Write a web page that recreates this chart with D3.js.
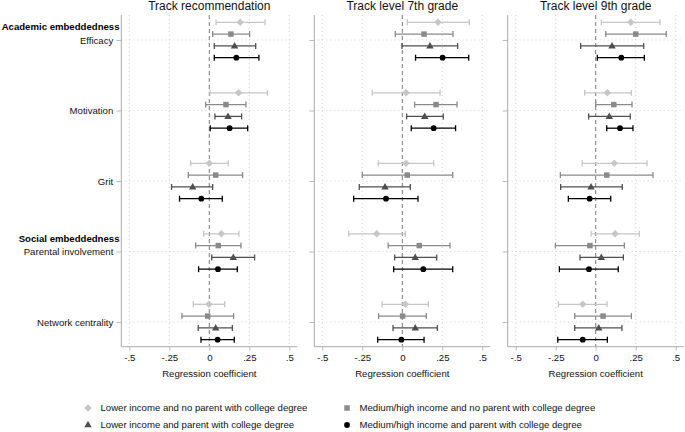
<!DOCTYPE html>
<html><head><meta charset="utf-8">
<script src="https://cdn.jsdelivr.net/npm/d3@7"></script>
<style>
body{margin:0;background:#fff;}
svg{display:block;font-family:"Liberation Sans",Arial,Helvetica,sans-serif;}
</style></head>
<body><svg id="c" width="685" height="432"></svg>
<script>
const categories = ["Efficacy","Motivation","Grit","Parental involvement","Network centrality"];
const groupHeaders = [{label:"Academic embeddedness", before:"Efficacy"},{label:"Social embeddedness", before:"Parental involvement"}];
const seriesNames = ["Lower income and no parent with college degree","Medium/high income and no parent with college degree","Lower income and parent with college degree","Medium/high income and parent with college degree"];
const panelTitles = ["Track recommendation","Track level 7th grade","Track level 9th grade"];
const xTicks = [-0.5,-0.25,0,0.25,0.5];
const xTickLabels = ["-.5","-.25","0",".25",".5"];

// series order: diamond, square, triangle, circle ; each row = categories
const trackRecEst = [[0.194,0.183,0.000,0.075,-0.002],[0.135,0.104,0.040,0.056,-0.010],[0.158,0.117,-0.104,0.150,0.040],[0.169,0.127,-0.050,0.054,0.052]];
const trackRecLo  = [[0.042,0.004,-0.117,-0.035,-0.100],[0.021,-0.023,-0.131,-0.085,-0.171],[0.031,0.035,-0.236,0.015,-0.069],[0.031,0.006,-0.186,-0.067,-0.052]];
const trackRecHi  = [[0.348,0.363,0.119,0.185,0.096],[0.252,0.229,0.208,0.198,0.152],[0.290,0.202,0.021,0.283,0.144],[0.310,0.240,0.081,0.175,0.156]];

const grade7Est = [[0.223,0.023,0.023,-0.160,0.019],[0.136,0.211,0.031,0.106,0.002],[0.173,0.140,-0.108,0.081,0.081],[0.252,0.196,-0.102,0.131,-0.006]];
const grade7Lo  = [[0.031,-0.188,-0.150,-0.335,-0.127],[-0.044,0.077,-0.250,-0.088,-0.148],[-0.002,0.027,-0.269,-0.048,-0.058],[0.083,0.056,-0.304,-0.054,-0.154]];
const grade7Hi  = [[0.419,0.236,0.196,0.019,0.163],[0.317,0.342,0.315,0.298,0.150],[0.346,0.256,0.050,0.215,0.219],[0.415,0.333,0.098,0.315,0.136]];

const grade9Est = [[0.219,0.073,0.116,0.121,-0.081],[0.250,0.113,0.069,-0.036,0.046],[0.102,0.085,-0.029,0.035,0.019],[0.160,0.152,-0.038,-0.042,-0.081]];
const grade9Lo  = [[0.035,-0.069,-0.084,-0.029,-0.233],[0.063,0.000,-0.221,-0.252,-0.131],[-0.094,-0.044,-0.219,-0.098,-0.131],[0.010,0.069,-0.171,-0.227,-0.237]];
const grade9Hi  = [[0.402,0.223,0.321,0.273,0.071],[0.441,0.227,0.358,0.179,0.223],[0.300,0.216,0.166,0.173,0.164],[0.304,0.233,0.094,0.141,0.073]];

const panels = [
  {title:panelTitles[0], est:trackRecEst, lo:trackRecLo, hi:trackRecHi, x0:121.3},
  {title:panelTitles[1], est:grade7Est, lo:grade7Lo, hi:grade7Hi, x0:314.3},
  {title:panelTitles[2], est:grade9Est, lo:grade9Lo, hi:grade9Hi, x0:507.7}
];

const colors = ["#c6c6c6","#8a8a8a","#4f4f4f","#000000"];
const symbols = [d3.symbolDiamond2, d3.symbolSquare, d3.symbolTriangle, d3.symbolCircle];
const symSizes = [36, 30, 24, 26];

const svg = d3.select("#c");
const plotTop = 15, plotBottom = 346.7, pw = 176;
const y = d3.scalePoint().domain(categories).range([40, 322]);
const yOff = d3.scalePoint().domain(d3.range(4)).range([-17.7, 17.7]);
const FS = 9.6;

panels.forEach((p, pi) => {
  const x = d3.scaleLinear().domain([-0.55, 0.55]).range([p.x0, p.x0 + pw]);
  const g = svg.append("g");
  g.selectAll("line.vg").data(xTicks.filter(d => d !== 0)).join("line")
    .attr("x1", d => x(d)).attr("x2", d => x(d)).attr("y1", plotTop).attr("y2", plotBottom)
    .attr("stroke", "#d0d0d0").attr("stroke-width", 1).attr("stroke-dasharray", "1,3");
  g.selectAll("line.hg").data(categories).join("line")
    .attr("x1", p.x0).attr("x2", p.x0 + pw).attr("y1", d => y(d)).attr("y2", d => y(d))
    .attr("stroke", "#d0d0d0").attr("stroke-width", 1).attr("stroke-dasharray", "1,3");
  g.append("line").attr("x1", x(0)).attr("x2", x(0)).attr("y1", plotTop).attr("y2", plotBottom)
    .attr("stroke", "#777").attr("stroke-width", 1).attr("stroke-dasharray", "4,3");
  const ya = g.append("g").attr("transform", `translate(${p.x0},0)`)
    .call(d3.axisLeft(y).tickSize(5).tickPadding(3).tickFormat(pi === 0 ? (d => d) : () => ""));
  ya.select(".domain").attr("d", `M0,${plotTop}V${plotBottom}`).attr("stroke", "#aaa");
  ya.selectAll(".tick line").attr("stroke", "#bbb");
  ya.selectAll(".tick text").attr("font-size", FS).attr("font-family", "inherit").attr("fill", "#111");
  const xa = g.append("g").attr("transform", `translate(0,${plotBottom})`)
    .call(d3.axisBottom(x).tickValues(xTicks).tickSize(4).tickPadding(3).tickFormat((d, i) => xTickLabels[i]));
  xa.select(".domain").attr("d", `M${p.x0},0H${p.x0 + pw}`).attr("stroke", "#aaa");
  xa.selectAll(".tick line").attr("stroke", "#bbb");
  xa.selectAll(".tick text").attr("font-size", FS).attr("font-family", "inherit").attr("fill", "#111");
  g.append("text").attr("x", x(0)).attr("y", 376.5).attr("text-anchor", "middle")
    .attr("font-size", FS).attr("fill", "#111").text("Regression coefficient");
  g.append("text").attr("x", x(0)).attr("y", 10).attr("text-anchor", "middle")
    .attr("font-size", 12).attr("fill", "#111").text(p.title);
  for (let s = 0; s < 4; s++) {
    const rows = categories.map((c, i) => ({c, e: p.est[s][i], lo: p.lo[s][i], hi: p.hi[s][i]}));
    const sg = g.append("g");
    sg.selectAll("line.ci").data(rows).join("line")
      .attr("x1", d => x(d.lo)).attr("x2", d => x(d.hi))
      .attr("y1", d => y(d.c) + yOff(s)).attr("y2", d => y(d.c) + yOff(s))
      .attr("stroke", colors[s]).attr("stroke-width", 1.3);
    ["lo","hi"].forEach(k => {
      sg.selectAll("line.cap" + k).data(rows).join("line")
        .attr("x1", d => x(d[k])).attr("x2", d => x(d[k]))
        .attr("y1", d => y(d.c) + yOff(s) - 3).attr("y2", d => y(d.c) + yOff(s) + 3)
        .attr("stroke", colors[s]).attr("stroke-width", 1.3);
    });
    sg.selectAll("path.m").data(rows).join("path")
      .attr("d", d3.symbol().type(symbols[s]).size(symSizes[s]))
      .attr("transform", d => `translate(${x(d.e)},${y(d.c) + yOff(s) + (s === 2 ? 0.5 : 0)})`)
      .attr("fill", colors[s]);
  }
});

groupHeaders.forEach(h => {
  svg.append("text").attr("x", 119.5).attr("y", y(h.before) - 13.3 + 3.4)
    .attr("text-anchor", "end").attr("font-size", FS).attr("font-weight", "bold")
    .attr("fill", "#000").text(h.label);
});

const legPos = [[88,408],[347,408],[88,425],[347,425]];
seriesNames.forEach((n, s) => {
  const [lx, ly] = legPos[s];
  svg.append("path").attr("d", d3.symbol().type(symbols[s]).size(symSizes[s])())
    .attr("transform", `translate(${lx},${ly})`).attr("fill", colors[s]);
  svg.append("text").attr("x", lx + 12.5).attr("y", ly + 3.4).attr("font-size", FS)
    .attr("fill", "#111").text(n);
});
</script></body></html>
